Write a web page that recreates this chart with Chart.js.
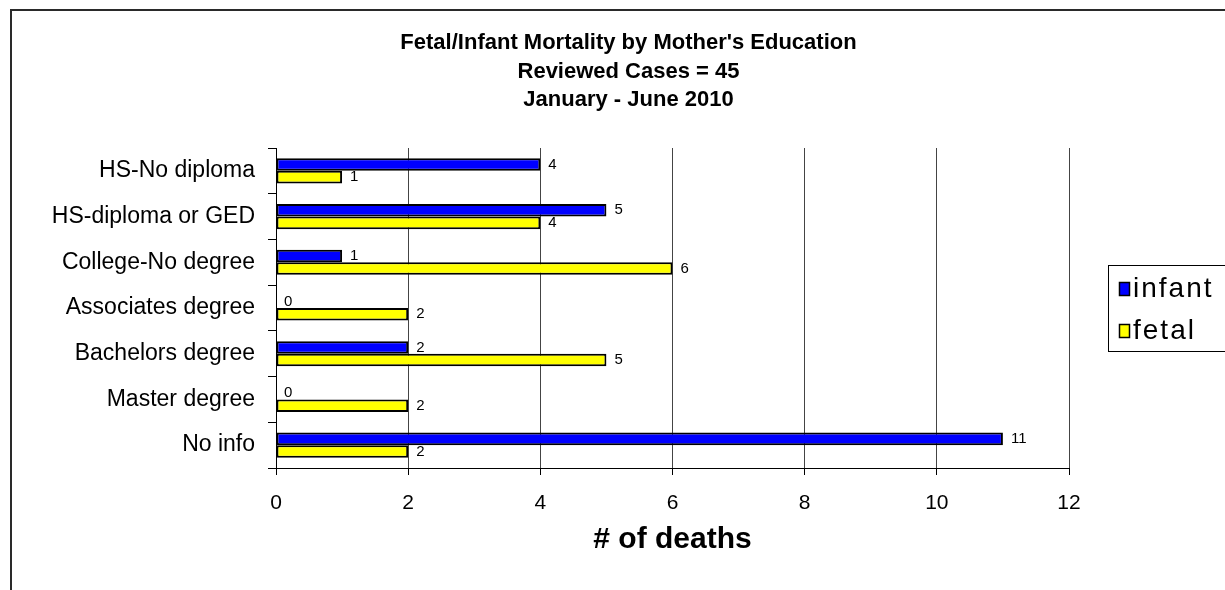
<!DOCTYPE html>
<html>
<head>
<meta charset="utf-8">
<script src="https://cdn.jsdelivr.net/npm/chart.js@4/dist/chart.umd.min.js"></script>
<style>
  html, body { margin: 0; padding: 0; background: #fff; }
  #wrap { position: relative; width: 1225px; height: 590px; }
</style>
</head>
<body>
<div id="wrap"><canvas id="chart"></canvas></div>
<script>
// Education level of the mother, listed top to bottom
const categories = [
  'HS-No diploma',
  'HS-diploma or GED',
  'College-No degree',
  'Associates degree',
  'Bachelors degree',
  'Master degree',
  'No info'
];

// Reviewed deaths per group, January - June 2010
const infantDeaths = [4, 5, 1, 0, 2, 0, 11];
const fetalDeaths  = [1, 4, 6, 2, 5, 2, 2];

const seriesNames = ['infant', 'fetal'];
const xTicks = [0, 2, 4, 6, 8, 10, 12];

const titleLines = [
  'Fetal/Infant Mortality by Mother\'s Education',
  'Reviewed Cases = 45',
  'January - June 2010'
];
const xAxisTitle = '# of deaths';

const FONT = '"Liberation Sans", Arial, sans-serif';

// Outer frame of the chart sheet
const framePlugin = {
  id: 'frame',
  beforeDraw(chart) {
    const ctx = chart.ctx;
    ctx.save();
    ctx.fillStyle = '#fff';
    ctx.fillRect(0, 0, chart.width, chart.height);
    ctx.strokeStyle = '#2a2a2a';
    ctx.lineWidth = 2;
    ctx.beginPath();
    ctx.moveTo(11, chart.height + 5);
    ctx.lineTo(11, 10);
    ctx.lineTo(chart.width + 5, 10);
    ctx.stroke();
    ctx.restore();
  }
};

// Three-line heading centred over the chart body
const headingPlugin = {
  id: 'heading',
  afterDraw(chart) {
    const ctx = chart.ctx;
    ctx.save();
    ctx.font = 'bold 22px ' + FONT;
    ctx.fillStyle = '#000';
    ctx.textAlign = 'center';
    ctx.textBaseline = 'middle';
    titleLines.forEach((line, i) => {
      ctx.fillText(line, 628.5, 43 + i * 28.5);
    });
    ctx.restore();
  }
};

// Value printed just past the end of each bar
const valueLabels = {
  id: 'valueLabels',
  afterDatasetsDraw(chart) {
    const ctx = chart.ctx;
    ctx.save();
    ctx.font = '15px ' + FONT;
    ctx.fillStyle = '#000';
    ctx.textAlign = 'left';
    ctx.textBaseline = 'middle';
    chart.data.datasets.forEach((ds, i) => {
      const meta = chart.getDatasetMeta(i);
      meta.data.forEach((bar, j) => {
        ctx.fillText(String(ds.data[j]), bar.x + 8, bar.y);
      });
    });
    ctx.restore();
  }
};

// Boxed legend at the right of the plot
const boxedLegend = {
  id: 'boxedLegend',
  afterDraw(chart) {
    const ctx = chart.ctx;
    const left = 1108.5, top = 265.5, h = 86;
    ctx.save();
    ctx.strokeStyle = '#000';
    ctx.lineWidth = 1;
    ctx.strokeRect(left, top, 200, h);
    ctx.font = '28px ' + FONT;
    ctx.letterSpacing = '2px';
    ctx.textBaseline = 'middle';
    ctx.textAlign = 'left';
    chart.data.datasets.forEach((ds, i) => {
      const cy = 288 + i * 42;
      ctx.fillStyle = ds.backgroundColor;
      ctx.fillRect(1119, cy - 6, 10, 13);
      ctx.strokeStyle = '#000';
      ctx.lineWidth = 1.5;
      ctx.strokeRect(1119.5, cy - 5.5, 10, 13);
      ctx.fillStyle = '#000';
      ctx.fillText(ds.label, 1133, cy + 1);
    });
    ctx.restore();
  }
};

new Chart(document.getElementById('chart'), {
  type: 'bar',
  data: {
    labels: categories,
    datasets: [
      {
        label: seriesNames[0],
        data: infantDeaths,
        backgroundColor: '#0000ff',
        borderColor: '#000',
        borderWidth: 2,
        borderSkipped: false
      },
      {
        label: seriesNames[1],
        data: fetalDeaths,
        backgroundColor: '#ffff00',
        borderColor: '#000',
        borderWidth: 2,
        borderSkipped: false
      }
    ]
  },
  options: {
    indexAxis: 'y',
    responsive: true,
    maintainAspectRatio: false,
    animation: false,
    events: [],
    datasets: {
      bar: { categoryPercentage: 0.55, barPercentage: 1.0 }
    },
    layout: { padding: { left: 0, right: 156, top: 148, bottom: 0 } },
    plugins: {
      legend: { display: false },
      tooltip: { enabled: false },
      title: { display: false }
    },
    scales: {
      x: {
        min: 0,
        max: 12,
        afterBuildTicks(scale) {
          scale.ticks = xTicks.map(v => ({ value: v }));
        },
        afterFit(scale) { scale.height = 122; },
        grid: {
          color: '#444',
          lineWidth: 1,
          tickColor: '#000',
          tickLength: 7
        },
        border: { color: '#000', width: 1 },
        ticks: {
          color: '#000',
          padding: 16,
          font: { family: FONT, size: 21 }
        },
        title: {
          display: true,
          text: xAxisTitle,
          color: '#000',
          font: { family: FONT, size: 30, weight: 'bold' },
          padding: { top: 0, bottom: 32 }
        }
      },
      y: {
        afterFit(scale) { scale.width = 276; },
        grid: {
          offset: true,
          drawOnChartArea: false,
          color: '#000',
          tickLength: 8
        },
        border: { color: '#000', width: 1 },
        ticks: {
          color: '#000',
          padding: 13,
          font: { family: FONT, size: 23 }
        }
      }
    }
  },
  plugins: [framePlugin, headingPlugin, valueLabels, boxedLegend]
});
</script>
</body>
</html>
